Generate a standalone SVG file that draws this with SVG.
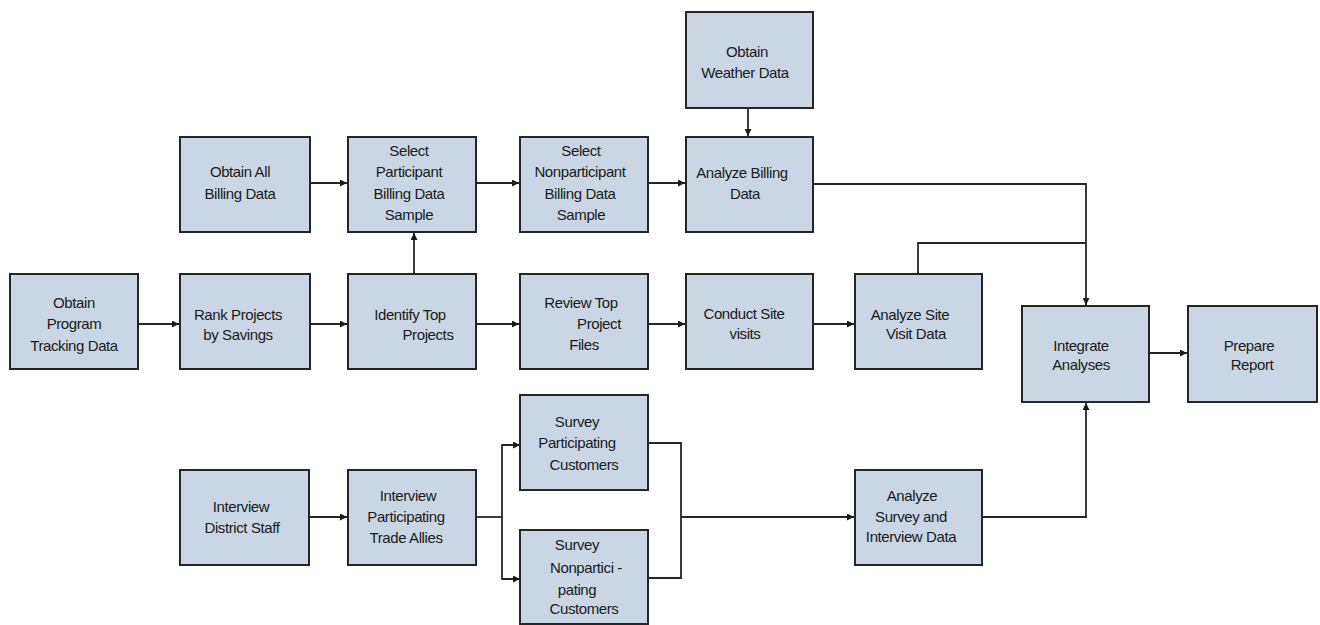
<svg xmlns="http://www.w3.org/2000/svg" width="1320" height="625" viewBox="0 0 1320 625">
<style>
.box{fill:#cad6e4;stroke:#262626;stroke-width:2}
.t{font-family:"Liberation Sans",Arial,sans-serif;font-size:15px;fill:#1a1a1a;text-anchor:middle;letter-spacing:-0.4px}
.c{fill:none;stroke:#262626;stroke-width:1.8}
</style>
<defs>
<marker id="ah" viewBox="0 0 10 10" refX="10" refY="5" markerWidth="9" markerHeight="7" markerUnits="userSpaceOnUse" orient="auto">
<path d="M0,0 L10,5 L0,10 z" fill="#1a1a1a"/>
</marker>
</defs>
<rect width="1320" height="625" fill="#ffffff"/>
<g id="connectors">
<path class="c" d="M310,183 H347" marker-end="url(#ah)"/>
<path class="c" d="M476,183 H519" marker-end="url(#ah)"/>
<path class="c" d="M648,183 H685" marker-end="url(#ah)"/>
<path class="c" d="M748,108 V136" marker-end="url(#ah)"/>
<path class="c" d="M414,274 V233" marker-end="url(#ah)"/>
<path class="c" d="M138,324 H179" marker-end="url(#ah)"/>
<path class="c" d="M310,324 H347" marker-end="url(#ah)"/>
<path class="c" d="M476,324 H519" marker-end="url(#ah)"/>
<path class="c" d="M648,324 H685" marker-end="url(#ah)"/>
<path class="c" d="M813,324 H854" marker-end="url(#ah)"/>
<path class="c" d="M813,184 H1086 V305" marker-end="url(#ah)"/>
<path class="c" d="M918,274 V243 H1086"/>
<path class="c" d="M1149,353 H1187" marker-end="url(#ah)"/>
<path class="c" d="M309,517 H347" marker-end="url(#ah)"/>
<path class="c" d="M476,517 H502"/>
<path class="c" d="M502,517 V445 H520" marker-end="url(#ah)"/>
<path class="c" d="M502,517 V579 H520" marker-end="url(#ah)"/>
<path class="c" d="M648,443 H681 V578 H648"/>
<path class="c" d="M681,517 H854" marker-end="url(#ah)"/>
<path class="c" d="M982,517 H1086 V403" marker-end="url(#ah)"/>
</g>
<g id="n-weather">
<rect class="box" x="686" y="12" width="127" height="96"/>
<text class="t" x="747" y="57">Obtain</text>
<text class="t" x="745" y="78">Weather Data</text>
</g>
<g id="n-allbilling">
<rect class="box" x="180" y="137" width="130" height="95"/>
<text class="t" x="240" y="177">Obtain All</text>
<text class="t" x="240" y="199">Billing Data</text>
</g>
<g id="n-selpart">
<rect class="box" x="348" y="137" width="128" height="95"/>
<text class="t" x="409" y="156">Select</text>
<text class="t" x="409" y="177">Participant</text>
<text class="t" x="409" y="199">Billing Data</text>
<text class="t" x="409" y="220">Sample</text>
</g>
<g id="n-selnonpart">
<rect class="box" x="520" y="137" width="128" height="95"/>
<text class="t" x="581" y="156">Select</text>
<text class="t" x="580" y="177">Nonparticipant</text>
<text class="t" x="580" y="199">Billing Data</text>
<text class="t" x="581" y="220">Sample</text>
</g>
<g id="n-analyzebilling">
<rect class="box" x="686" y="137" width="127" height="95"/>
<text class="t" x="742" y="178">Analyze Billing</text>
<text class="t" x="745" y="199">Data</text>
</g>
<g id="n-tracking">
<rect class="box" x="10" y="274" width="128" height="95"/>
<text class="t" x="74" y="308">Obtain</text>
<text class="t" x="74" y="329">Program</text>
<text class="t" x="74" y="351">Tracking Data</text>
</g>
<g id="n-rank">
<rect class="box" x="180" y="274" width="130" height="95"/>
<text class="t" x="238" y="320">Rank Projects</text>
<text class="t" x="238" y="340">by Savings</text>
</g>
<g id="n-identify">
<rect class="box" x="348" y="274" width="128" height="95"/>
<text class="t" x="410" y="320">Identify Top</text>
<text class="t" x="428" y="340">Projects</text>
</g>
<g id="n-review">
<rect class="box" x="520" y="274" width="128" height="95"/>
<text class="t" x="581" y="308">Review Top</text>
<text class="t" x="599" y="329">Project</text>
<text class="t" x="584" y="350">Files</text>
</g>
<g id="n-conduct">
<rect class="box" x="686" y="274" width="127" height="95"/>
<text class="t" x="744" y="319">Conduct Site</text>
<text class="t" x="745" y="339">visits</text>
</g>
<g id="n-analyzesite">
<rect class="box" x="855" y="274" width="127" height="95"/>
<text class="t" x="910" y="320">Analyze Site</text>
<text class="t" x="916" y="339">Visit Data</text>
</g>
<g id="n-integrate">
<rect class="box" x="1022" y="306" width="127" height="96"/>
<text class="t" x="1081" y="351">Integrate</text>
<text class="t" x="1081" y="370">Analyses</text>
</g>
<g id="n-report">
<rect class="box" x="1188" y="306" width="129" height="96"/>
<text class="t" x="1249" y="351">Prepare</text>
<text class="t" x="1252" y="370">Report</text>
</g>
<g id="n-district">
<rect class="box" x="180" y="470" width="129" height="95"/>
<text class="t" x="241" y="512">Interview</text>
<text class="t" x="242" y="533">District Staff</text>
</g>
<g id="n-tradeallies">
<rect class="box" x="348" y="470" width="128" height="95"/>
<text class="t" x="408" y="501">Interview</text>
<text class="t" x="406" y="522">Participating</text>
<text class="t" x="406" y="543">Trade Allies</text>
</g>
<g id="n-surveypart">
<rect class="box" x="520" y="395" width="128" height="95"/>
<text class="t" x="577" y="427">Survey</text>
<text class="t" x="577" y="448">Participating</text>
<text class="t" x="584" y="470">Customers</text>
</g>
<g id="n-surveynonpart">
<rect class="box" x="520" y="530" width="128" height="94"/>
<text class="t" x="577" y="550">Survey</text>
<text class="t" x="586" y="573">Nonpartici -</text>
<text class="t" x="577" y="595">pating</text>
<text class="t" x="584" y="614">Customers</text>
</g>
<g id="n-analyzesurvey">
<rect class="box" x="855" y="470" width="127" height="95"/>
<text class="t" x="912" y="501">Analyze</text>
<text class="t" x="911" y="522">Survey and</text>
<text class="t" x="911" y="542">Interview Data</text>
</g>
</svg>
